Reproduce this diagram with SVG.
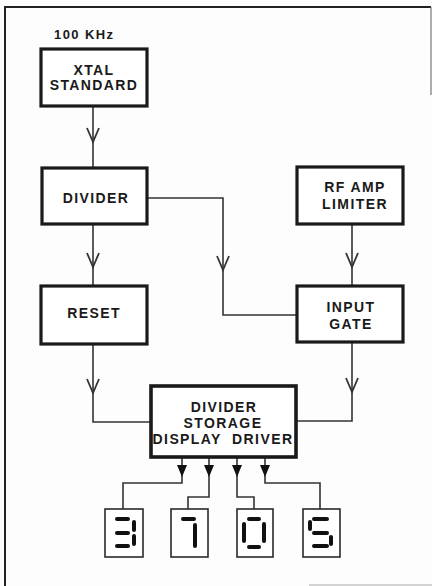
<svg xmlns="http://www.w3.org/2000/svg" width="432" height="586" viewBox="0 0 432 586">
<style>
.box{fill:#fff;stroke:#1a1a1a;stroke-width:3.2}
.disp{fill:#fff;stroke:#2a2a2a;stroke-width:1.6}
.seg{stroke:#111;stroke-width:4;stroke-linecap:round;fill:none}
.ln{fill:none;stroke:#333;stroke-width:1.6}
.t{font-family:"Liberation Sans",Arial,sans-serif;font-weight:bold;font-size:14px;letter-spacing:1.4px;fill:#1a1a1a;text-anchor:middle}
</style>
<defs>
<marker id="open" markerUnits="userSpaceOnUse" viewBox="0 0 14 12" refX="14" refY="6" markerWidth="14" markerHeight="12" orient="auto" overflow="visible">
<path d="M0,0 L14,6 L0,12" fill="none" stroke="#333" stroke-width="1.8"/>
</marker>
<marker id="fill" markerUnits="userSpaceOnUse" viewBox="0 0 12 10" refX="12" refY="5" markerWidth="12" markerHeight="10" orient="auto">
<path d="M0,0 L12,5 L0,10 Z" fill="#111"/>
</marker>
</defs>
<rect width="432" height="586" fill="#fdfdfd"/>
<g id="frame" fill="none">
<path d="M5,586 V7 H431" stroke="#222" stroke-width="2"/>
<path d="M431,7 V95" stroke="#777" stroke-width="1.2"/>
<path d="M309,585 H432" stroke="#aaa" stroke-width="1.2"/>
</g>
<text class="t" x="54" y="39" style="text-anchor:start;font-size:13px">100 KHz</text>
<g id="connectors">
<path class="ln" d="M93,107 V142" marker-end="url(#open)"/>
<path class="ln" d="M93,142 V167"/>
<path class="ln" d="M93,225 V267" marker-end="url(#open)"/>
<path class="ln" d="M93,267 V285"/>
<path class="ln" d="M93,345 V393" marker-end="url(#open)"/>
<path class="ln" d="M93,393 V422 H150"/>
<path class="ln" d="M148,198 H223 V270" marker-end="url(#open)"/>
<path class="ln" d="M223,270 V315 H296"/>
<path class="ln" d="M352,225 V267" marker-end="url(#open)"/>
<path class="ln" d="M352,267 V286"/>
<path class="ln" d="M352,343 V392" marker-end="url(#open)"/>
<path class="ln" d="M352,392 V421 H297"/>
<path class="ln" d="M182,458 V477" marker-end="url(#fill)"/>
<path class="ln" d="M182,477 V483 H123 V509"/>
<path class="ln" d="M209,458 V477" marker-end="url(#fill)"/>
<path class="ln" d="M209,477 V497 H188 V509"/>
<path class="ln" d="M237,458 V477" marker-end="url(#fill)"/>
<path class="ln" d="M237,477 V497 H254 V509"/>
<path class="ln" d="M265,458 V477" marker-end="url(#fill)"/>
<path class="ln" d="M265,477 V483 H320 V509"/>
</g>
<g id="xtal">
<rect class="box" x="41" y="49" width="106" height="57"/>
<text class="t" x="94" y="75">XTAL</text>
<text class="t" x="94" y="90">STANDARD</text>
</g>
<g id="divider">
<rect class="box" x="42" y="168" width="105" height="56"/>
<text class="t" x="96" y="203">DIVIDER</text>
</g>
<g id="reset">
<rect class="box" x="41" y="286" width="106" height="58"/>
<text class="t" x="94" y="318">RESET</text>
</g>
<g id="rfamp">
<rect class="box" x="297" y="167" width="106" height="57"/>
<text class="t" x="355" y="192">RF AMP</text>
<text class="t" x="355" y="209">LIMITER</text>
</g>
<g id="inputgate">
<rect class="box" x="297" y="286" width="106" height="56"/>
<text class="t" x="351" y="312">INPUT</text>
<text class="t" x="351" y="329">GATE</text>
</g>
<g id="driver">
<rect class="box" x="151" y="386" width="145" height="71" style="stroke-width:3.6"/>
<text class="t" x="224" y="412">DIVIDER</text>
<text class="t" x="223" y="428">STORAGE</text>
<text class="t" x="223" y="444" xml:space="preserve">DISPLAY  DRIVER</text>
</g>
<g id="digit3">
<rect class="disp" x="105" y="509" width="38" height="48"/>
<path class="seg" d="M117,519 H128 M117,533 H128 M117,546 H128 M134,522 V530 M134,536 V544"/>
</g>
<g id="digit7">
<rect class="disp" x="171" y="509" width="37" height="48"/>
<path class="seg" d="M183,519 H194 M195,525 V546"/>
</g>
<g id="digit0">
<rect class="disp" x="237" y="509" width="36" height="48"/>
<path class="seg" d="M249,519 H259 M249,547 H259 M244,524 V541 M264,524 V541"/>
</g>
<g id="digit5">
<rect class="disp" x="303" y="509" width="37" height="48"/>
<path class="seg" d="M314,519 H327 M314,533 H327 M314,546 H327 M310,522 V529 M331,537 V544"/>
</g>
</svg>
